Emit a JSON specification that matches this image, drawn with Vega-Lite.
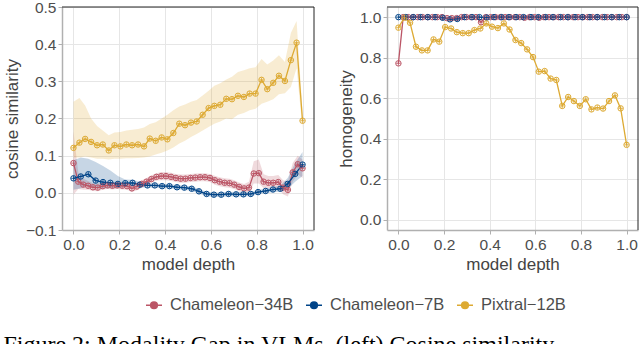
{
  "$schema": "https://vega.github.io/schema/vega-lite/v6.json",
  "padding": {"left": 3, "top": 0, "right": 0, "bottom": 0},
  "spacing": 22,
  "title": {"text": "Figure 2: Modality Gap in VLMs. (left) Cosine similarity", "orient": "bottom", "anchor": "start", "font": "Liberation Serif", "fontSize": 24, "fontWeight": "normal", "color": "#000000", "offset": 19, "baseline": "top"},
  "datasets": {
    "d": [
      {"m":"Chameleon−34B","x":0,"c":0.080,"lo":-0.005,"hi":0.165,"h":0.772},
      {"m":"Chameleon−34B","x":0.021,"c":0.030,"lo":0.010,"hi":0.055,"h":1.0},
      {"m":"Chameleon−34B","x":0.043,"c":0.022,"lo":0.008,"hi":0.038,"h":1.0},
      {"m":"Chameleon−34B","x":0.064,"c":0.019,"lo":0.008,"hi":0.032,"h":1.0},
      {"m":"Chameleon−34B","x":0.085,"c":0.015,"lo":0.005,"hi":0.026,"h":1.0},
      {"m":"Chameleon−34B","x":0.106,"c":0.014,"lo":0.004,"hi":0.025,"h":1.0},
      {"m":"Chameleon−34B","x":0.128,"c":0.018,"lo":0.008,"hi":0.028,"h":1.0},
      {"m":"Chameleon−34B","x":0.149,"c":0.020,"lo":0.010,"hi":0.030,"h":1.0},
      {"m":"Chameleon−34B","x":0.170,"c":0.019,"lo":0.009,"hi":0.029,"h":1.0},
      {"m":"Chameleon−34B","x":0.191,"c":0.020,"lo":0.010,"hi":0.030,"h":1.0},
      {"m":"Chameleon−34B","x":0.213,"c":0.019,"lo":0.009,"hi":0.029,"h":0.995},
      {"m":"Chameleon−34B","x":0.234,"c":0.018,"lo":0.008,"hi":0.028,"h":0.995},
      {"m":"Chameleon−34B","x":0.255,"c":0.012,"lo":0.002,"hi":0.022,"h":0.995},
      {"m":"Chameleon−34B","x":0.277,"c":0.017,"lo":0.007,"hi":0.027,"h":1.0},
      {"m":"Chameleon−34B","x":0.298,"c":0.024,"lo":0.014,"hi":0.034,"h":1.0},
      {"m":"Chameleon−34B","x":0.319,"c":0.030,"lo":0.020,"hi":0.040,"h":1.0},
      {"m":"Chameleon−34B","x":0.340,"c":0.037,"lo":0.027,"hi":0.047,"h":1.0},
      {"m":"Chameleon−34B","x":0.362,"c":0.043,"lo":0.033,"hi":0.053,"h":0.975},
      {"m":"Chameleon−34B","x":0.383,"c":0.045,"lo":0.034,"hi":0.056,"h":1.0},
      {"m":"Chameleon−34B","x":0.404,"c":0.045,"lo":0.034,"hi":0.056,"h":1.0},
      {"m":"Chameleon−34B","x":0.426,"c":0.043,"lo":0.032,"hi":0.054,"h":1.0},
      {"m":"Chameleon−34B","x":0.447,"c":0.040,"lo":0.029,"hi":0.051,"h":1.0},
      {"m":"Chameleon−34B","x":0.468,"c":0.038,"lo":0.027,"hi":0.049,"h":1.0},
      {"m":"Chameleon−34B","x":0.489,"c":0.038,"lo":0.027,"hi":0.049,"h":1.0},
      {"m":"Chameleon−34B","x":0.511,"c":0.040,"lo":0.029,"hi":0.051,"h":1.0},
      {"m":"Chameleon−34B","x":0.532,"c":0.041,"lo":0.030,"hi":0.052,"h":1.0},
      {"m":"Chameleon−34B","x":0.553,"c":0.042,"lo":0.031,"hi":0.053,"h":0.997},
      {"m":"Chameleon−34B","x":0.574,"c":0.042,"lo":0.031,"hi":0.053,"h":1.0},
      {"m":"Chameleon−34B","x":0.596,"c":0.040,"lo":0.029,"hi":0.051,"h":1.0},
      {"m":"Chameleon−34B","x":0.617,"c":0.034,"lo":0.022,"hi":0.046,"h":0.997},
      {"m":"Chameleon−34B","x":0.638,"c":0.030,"lo":0.018,"hi":0.042,"h":1.0},
      {"m":"Chameleon−34B","x":0.660,"c":0.027,"lo":0.015,"hi":0.039,"h":1.0},
      {"m":"Chameleon−34B","x":0.681,"c":0.026,"lo":0.014,"hi":0.038,"h":1.0},
      {"m":"Chameleon−34B","x":0.702,"c":0.022,"lo":0.010,"hi":0.034,"h":1.0},
      {"m":"Chameleon−34B","x":0.723,"c":0.016,"lo":0.004,"hi":0.028,"h":1.0},
      {"m":"Chameleon−34B","x":0.745,"c":0.012,"lo":0.000,"hi":0.024,"h":1.0},
      {"m":"Chameleon−34B","x":0.766,"c":0.014,"lo":0.000,"hi":0.030,"h":1.0},
      {"m":"Chameleon−34B","x":0.787,"c":0.052,"lo":0.025,"hi":0.085,"h":1.0},
      {"m":"Chameleon−34B","x":0.809,"c":0.053,"lo":0.025,"hi":0.090,"h":1.0},
      {"m":"Chameleon−34B","x":0.830,"c":0.030,"lo":0.012,"hi":0.050,"h":1.0},
      {"m":"Chameleon−34B","x":0.851,"c":0.027,"lo":0.012,"hi":0.045,"h":1.0},
      {"m":"Chameleon−34B","x":0.872,"c":0.027,"lo":0.012,"hi":0.045,"h":1.0},
      {"m":"Chameleon−34B","x":0.894,"c":0.029,"lo":0.012,"hi":0.048,"h":1.0},
      {"m":"Chameleon−34B","x":0.915,"c":0.014,"lo":-0.004,"hi":0.034,"h":1.0},
      {"m":"Chameleon−34B","x":0.936,"c":0.008,"lo":-0.010,"hi":0.030,"h":1.0},
      {"m":"Chameleon−34B","x":0.957,"c":0.055,"lo":0.030,"hi":0.080,"h":1.0},
      {"m":"Chameleon−34B","x":0.979,"c":0.077,"lo":0.050,"hi":0.100,"h":1.0},
      {"m":"Chameleon−34B","x":1.0,"c":0.066,"lo":0.040,"hi":0.090,"h":1.0},

      {"m":"Chameleon−7B","x":0,"c":0.039,"lo":0.008,"hi":0.088,"h":1.0},
      {"m":"Chameleon−7B","x":0.032,"c":0.044,"lo":0.012,"hi":0.095,"h":1.0},
      {"m":"Chameleon−7B","x":0.065,"c":0.050,"lo":0.020,"hi":0.092,"h":1.0},
      {"m":"Chameleon−7B","x":0.097,"c":0.033,"lo":0.012,"hi":0.083,"h":1.0},
      {"m":"Chameleon−7B","x":0.129,"c":0.029,"lo":0.012,"hi":0.072,"h":1.0},
      {"m":"Chameleon−7B","x":0.161,"c":0.027,"lo":0.012,"hi":0.060,"h":1.0},
      {"m":"Chameleon−7B","x":0.194,"c":0.024,"lo":0.012,"hi":0.045,"h":0.997},
      {"m":"Chameleon−7B","x":0.226,"c":0.026,"lo":0.016,"hi":0.036,"h":0.989},
      {"m":"Chameleon−7B","x":0.258,"c":0.027,"lo":0.019,"hi":0.035,"h":0.991},
      {"m":"Chameleon−7B","x":0.290,"c":0.022,"lo":0.015,"hi":0.029,"h":1.0},
      {"m":"Chameleon−7B","x":0.323,"c":0.020,"lo":0.014,"hi":0.026,"h":1.0},
      {"m":"Chameleon−7B","x":0.355,"c":0.020,"lo":0.014,"hi":0.026,"h":1.0},
      {"m":"Chameleon−7B","x":0.387,"c":0.018,"lo":0.012,"hi":0.024,"h":0.998},
      {"m":"Chameleon−7B","x":0.419,"c":0.018,"lo":0.012,"hi":0.024,"h":1.0},
      {"m":"Chameleon−7B","x":0.452,"c":0.015,"lo":0.009,"hi":0.021,"h":1.0},
      {"m":"Chameleon−7B","x":0.484,"c":0.014,"lo":0.008,"hi":0.020,"h":1.0},
      {"m":"Chameleon−7B","x":0.516,"c":0.011,"lo":0.005,"hi":0.017,"h":1.0},
      {"m":"Chameleon−7B","x":0.548,"c":0.004,"lo":-0.002,"hi":0.010,"h":1.0},
      {"m":"Chameleon−7B","x":0.581,"c":-0.003,"lo":-0.009,"hi":0.003,"h":1.0},
      {"m":"Chameleon−7B","x":0.613,"c":-0.005,"lo":-0.011,"hi":0.001,"h":1.0},
      {"m":"Chameleon−7B","x":0.645,"c":-0.005,"lo":-0.011,"hi":0.001,"h":1.0},
      {"m":"Chameleon−7B","x":0.677,"c":-0.003,"lo":-0.009,"hi":0.003,"h":1.0},
      {"m":"Chameleon−7B","x":0.710,"c":-0.004,"lo":-0.010,"hi":0.002,"h":1.0},
      {"m":"Chameleon−7B","x":0.742,"c":-0.004,"lo":-0.010,"hi":0.002,"h":1.0},
      {"m":"Chameleon−7B","x":0.774,"c":-0.003,"lo":-0.009,"hi":0.003,"h":1.0},
      {"m":"Chameleon−7B","x":0.806,"c":0.002,"lo":-0.004,"hi":0.008,"h":1.0},
      {"m":"Chameleon−7B","x":0.839,"c":0.005,"lo":-0.001,"hi":0.011,"h":1.0},
      {"m":"Chameleon−7B","x":0.871,"c":0.009,"lo":0.002,"hi":0.016,"h":1.0},
      {"m":"Chameleon−7B","x":0.903,"c":0.011,"lo":0.003,"hi":0.019,"h":1.0},
      {"m":"Chameleon−7B","x":0.935,"c":0.024,"lo":0.010,"hi":0.040,"h":1.0},
      {"m":"Chameleon−7B","x":0.968,"c":0.051,"lo":0.030,"hi":0.080,"h":1.0},
      {"m":"Chameleon−7B","x":1.0,"c":0.076,"lo":0.045,"hi":0.110,"h":1.0},

      {"m":"Pixtral−12B","x":0,"c":0.121,"lo":0.095,"hi":0.245,"h":0.948},
      {"m":"Pixtral−12B","x":0.026,"c":0.135,"lo":0.095,"hi":0.255,"h":0.997},
      {"m":"Pixtral−12B","x":0.051,"c":0.145,"lo":0.098,"hi":0.235,"h":0.972},
      {"m":"Pixtral−12B","x":0.077,"c":0.137,"lo":0.095,"hi":0.200,"h":0.854},
      {"m":"Pixtral−12B","x":0.103,"c":0.128,"lo":0.092,"hi":0.180,"h":0.836},
      {"m":"Pixtral−12B","x":0.128,"c":0.130,"lo":0.092,"hi":0.168,"h":0.836},
      {"m":"Pixtral−12B","x":0.154,"c":0.114,"lo":0.090,"hi":0.155,"h":0.890},
      {"m":"Pixtral−12B","x":0.179,"c":0.128,"lo":0.092,"hi":0.162,"h":0.879},
      {"m":"Pixtral−12B","x":0.205,"c":0.125,"lo":0.092,"hi":0.164,"h":0.951},
      {"m":"Pixtral−12B","x":0.231,"c":0.130,"lo":0.093,"hi":0.168,"h":0.944},
      {"m":"Pixtral−12B","x":0.256,"c":0.128,"lo":0.093,"hi":0.170,"h":0.926},
      {"m":"Pixtral−12B","x":0.282,"c":0.130,"lo":0.094,"hi":0.172,"h":0.921},
      {"m":"Pixtral−12B","x":0.308,"c":0.125,"lo":0.095,"hi":0.176,"h":0.921},
      {"m":"Pixtral−12B","x":0.333,"c":0.146,"lo":0.098,"hi":0.185,"h":0.936},
      {"m":"Pixtral−12B","x":0.359,"c":0.140,"lo":0.103,"hi":0.190,"h":0.944},
      {"m":"Pixtral−12B","x":0.385,"c":0.149,"lo":0.108,"hi":0.200,"h":0.969},
      {"m":"Pixtral−12B","x":0.410,"c":0.144,"lo":0.114,"hi":0.210,"h":0.953},
      {"m":"Pixtral−12B","x":0.436,"c":0.161,"lo":0.122,"hi":0.222,"h":0.946},
      {"m":"Pixtral−12B","x":0.462,"c":0.186,"lo":0.133,"hi":0.232,"h":0.969},
      {"m":"Pixtral−12B","x":0.487,"c":0.182,"lo":0.140,"hi":0.238,"h":0.939},
      {"m":"Pixtral−12B","x":0.513,"c":0.189,"lo":0.150,"hi":0.245,"h":0.887},
      {"m":"Pixtral−12B","x":0.538,"c":0.192,"lo":0.158,"hi":0.250,"h":0.872},
      {"m":"Pixtral−12B","x":0.564,"c":0.210,"lo":0.168,"hi":0.262,"h":0.841},
      {"m":"Pixtral−12B","x":0.590,"c":0.228,"lo":0.177,"hi":0.275,"h":0.803},
      {"m":"Pixtral−12B","x":0.615,"c":0.234,"lo":0.186,"hi":0.288,"h":0.731},
      {"m":"Pixtral−12B","x":0.641,"c":0.237,"lo":0.192,"hi":0.295,"h":0.734},
      {"m":"Pixtral−12B","x":0.667,"c":0.253,"lo":0.200,"hi":0.305,"h":0.697},
      {"m":"Pixtral−12B","x":0.692,"c":0.252,"lo":0.198,"hi":0.312,"h":0.690},
      {"m":"Pixtral−12B","x":0.718,"c":0.261,"lo":0.210,"hi":0.325,"h":0.562},
      {"m":"Pixtral−12B","x":0.744,"c":0.258,"lo":0.215,"hi":0.330,"h":0.606},
      {"m":"Pixtral−12B","x":0.769,"c":0.267,"lo":0.222,"hi":0.335,"h":0.586},
      {"m":"Pixtral−12B","x":0.795,"c":0.267,"lo":0.226,"hi":0.338,"h":0.562},
      {"m":"Pixtral−12B","x":0.821,"c":0.304,"lo":0.240,"hi":0.360,"h":0.595},
      {"m":"Pixtral−12B","x":0.846,"c":0.279,"lo":0.245,"hi":0.345,"h":0.545},
      {"m":"Pixtral−12B","x":0.872,"c":0.296,"lo":0.252,"hi":0.356,"h":0.554},
      {"m":"Pixtral−12B","x":0.897,"c":0.315,"lo":0.265,"hi":0.370,"h":0.549},
      {"m":"Pixtral−12B","x":0.923,"c":0.301,"lo":0.268,"hi":0.352,"h":0.586},
      {"m":"Pixtral−12B","x":0.949,"c":0.357,"lo":0.285,"hi":0.430,"h":0.614},
      {"m":"Pixtral−12B","x":0.974,"c":0.404,"lo":0.335,"hi":0.462,"h":0.550},
      {"m":"Pixtral−12B","x":1.0,"c":0.194,"lo":0.172,"hi":0.218,"h":0.370}
    ],
    "one": [{"k": 1}]
  },
  "hconcat": [
    {
      "width": 252,
      "height": 223,
      "data": {"name": "d"},
      "layer": [
        {
          "mark": {"type": "area", "opacity": 0.22},
          "encoding": {
            "x": {"field": "x", "type": "quantitative", "title": "model depth", "scale": {"domain": [-0.05, 1.05], "nice": false, "zero": false}, "axis": {"values": [0, 0.2, 0.4, 0.6, 0.8, 1.0], "format": ".1f", "tickCount": 10}},
            "y": {"field": "lo", "type": "quantitative", "stack": null, "title": "cosine similarity", "scale": {"domain": [-0.1, 0.5], "nice": false, "zero": false}, "axis": {"values": [-0.1, 0, 0.1, 0.2, 0.3, 0.4, 0.5], "format": ".1f", "tickCount": 10}},
            "y2": {"field": "hi"},
            "color": {"field": "m", "type": "nominal"}
          }
        },
        {
          "mark": {"type": "line", "strokeWidth": 1.3},
          "encoding": {
            "x": {"field": "x", "type": "quantitative", "title": "model depth"},
            "y": {"field": "c", "type": "quantitative", "title": "cosine similarity"},
            "color": {"field": "m", "type": "nominal"}
          }
        },
        {
          "mark": {"type": "point", "shape": "circle", "filled": false, "size": 30, "strokeWidth": 1, "opacity": 1},
          "encoding": {
            "x": {"field": "x", "type": "quantitative", "title": "model depth"},
            "y": {"field": "c", "type": "quantitative", "title": "cosine similarity"},
            "color": {"field": "m", "type": "nominal"}
          }
        },
        {
          "mark": {"type": "point", "shape": "M-1,0H1M0,-1V1", "filled": false, "size": 22, "strokeWidth": 0.8, "opacity": 1},
          "encoding": {
            "x": {"field": "x", "type": "quantitative", "title": "model depth"},
            "y": {"field": "c", "type": "quantitative", "title": "cosine similarity"},
            "color": {"field": "m", "type": "nominal"}
          }
        },
        {
          "data": {"name": "one"},
          "mark": {"type": "rule", "color": "#222222", "strokeWidth": 1},
          "encoding": {"x": {"datum": 1.05, "type": "quantitative"}}
        },
        {
          "data": {"name": "one"},
          "mark": {"type": "rule", "color": "#222222", "strokeWidth": 1},
          "encoding": {"y": {"datum": 0.5, "type": "quantitative"}}
        }
      ]
    },
    {
      "width": 251,
      "height": 223,
      "data": {"name": "d"},
      "layer": [
        {
          "mark": {"type": "line", "strokeWidth": 1.3},
          "encoding": {
            "x": {"field": "x", "type": "quantitative", "title": "model depth", "scale": {"domain": [-0.05, 1.05], "nice": false, "zero": false}, "axis": {"values": [0, 0.2, 0.4, 0.6, 0.8, 1.0], "format": ".1f", "tickCount": 10}},
            "y": {"field": "h", "type": "quantitative", "title": "homogeneity", "scale": {"domain": [-0.05, 1.05], "nice": false, "zero": false}, "axis": {"values": [0, 0.2, 0.4, 0.6, 0.8, 1.0], "format": ".1f", "tickCount": 10}},
            "color": {"field": "m", "type": "nominal"}
          }
        },
        {
          "mark": {"type": "point", "shape": "circle", "filled": false, "size": 30, "strokeWidth": 1, "opacity": 1},
          "encoding": {
            "x": {"field": "x", "type": "quantitative", "title": "model depth"},
            "y": {"field": "h", "type": "quantitative", "title": "homogeneity"},
            "color": {"field": "m", "type": "nominal"}
          }
        },
        {
          "mark": {"type": "point", "shape": "M-1,0H1M0,-1V1", "filled": false, "size": 22, "strokeWidth": 0.8, "opacity": 1},
          "encoding": {
            "x": {"field": "x", "type": "quantitative", "title": "model depth"},
            "y": {"field": "h", "type": "quantitative", "title": "homogeneity"},
            "color": {"field": "m", "type": "nominal"}
          }
        },
        {
          "data": {"name": "one"},
          "mark": {"type": "rule", "color": "#222222", "strokeWidth": 1},
          "encoding": {"x": {"datum": 1.05, "type": "quantitative"}}
        },
        {
          "data": {"name": "one"},
          "mark": {"type": "rule", "color": "#222222", "strokeWidth": 1},
          "encoding": {"y": {"datum": 1.05, "type": "quantitative"}}
        }
      ]
    }
  ],
  "config": {
    "font": "Liberation Sans",
    "view": {"stroke": null},
    "range": {"category": ["#BB5566", "#004488", "#DDAA33"]},
    "axis": {
      "domainColor": "#B0B0B0",
      "domainWidth": 1.5,
      "tickColor": "#B0B0B0",
      "tickSize": 4,
      "tickWidth": 1,
      "gridColor": "#E6E6E6",
      "gridWidth": 1,
      "labelFont": "Liberation Sans",
      "labelFontSize": 15.5,
      "labelColor": "#4D4D4D",
      "labelPadding": 2,
      "labelOverlap": false,
      "titleFont": "Liberation Sans",
      "titleFontSize": 17,
      "titleFontWeight": "normal",
      "titleColor": "#444444",
      "titlePadding": 4
    },
    "axisX": {"labelPadding": 3, "titlePadding": 4},
    "legend": {
      "orient": "none",
      "legendX": 83,
      "legendY": 289,
      "direction": "horizontal",
      "title": null,
      "symbolType": "M-1,0H1M-0.42,0A0.42,0.42 0 1,1 0.42,0A0.42,0.42 0 1,1 -0.42,0M0,-0.42V0.42",
      "symbolSize": 256,
      "symbolStrokeWidth": 1.5,
      "symbolOpacity": 1,
      "labelFont": "Liberation Sans",
      "labelFontSize": 16.5,
      "labelColor": "#4D4D4D",
      "labelOffset": 7,
      "columnPadding": 9
    }
  }
}
